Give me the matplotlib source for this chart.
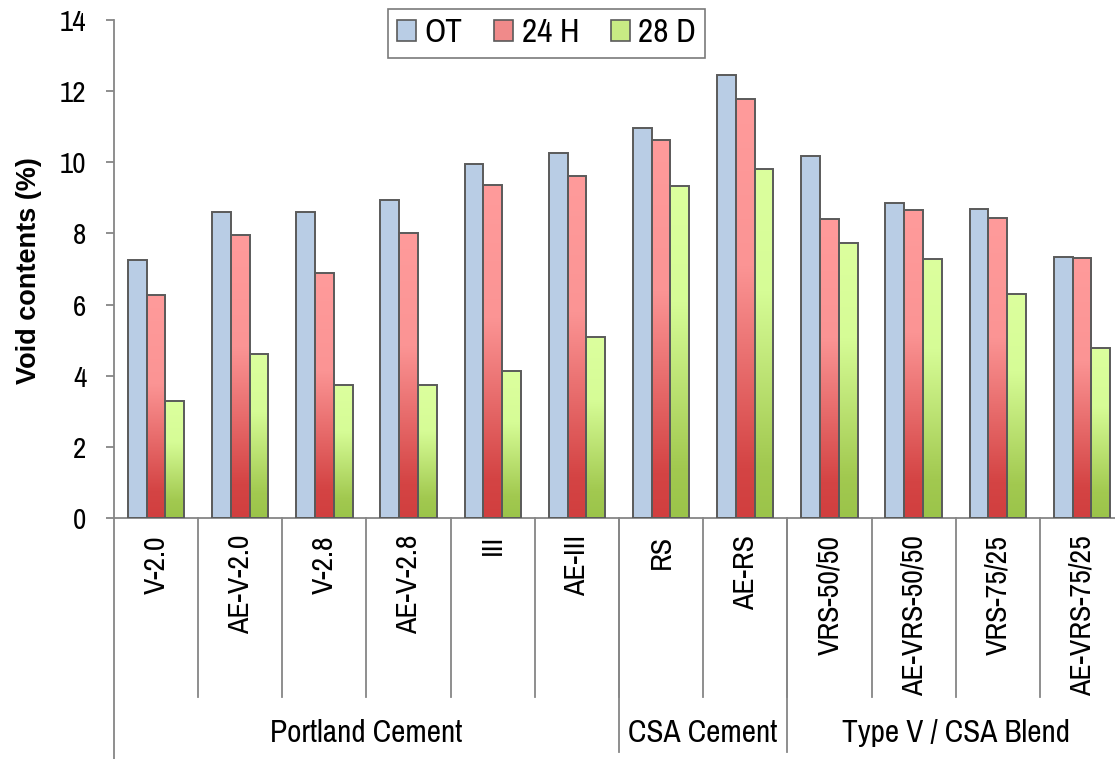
import matplotlib
matplotlib.use("Agg")
import matplotlib.pyplot as plt
import matplotlib.transforms as mtransforms
from matplotlib.patches import Patch
from matplotlib.colors import LinearSegmentedColormap
import numpy as np

plt.rcParams['font.family'] = ['Archivo Narrow', 'Liberation Sans', 'DejaVu Sans']

categories = ["V-2.0", "AE-V-2.0", "V-2.8", "AE-V-2.8", "III", "AE-III",
              "RS", "AE-RS",
              "VRS-50/50", "AE-VRS-50/50", "VRS-75/25", "AE-VRS-75/25"]
groups = ["Portland Cement", "CSA Cement", "Type V / CSA Blend"]
group_sizes = [6, 2, 4]
series_names = ["OT", "24 H", "28 D"]
ot = [7.26, 8.59, 8.59, 8.94, 9.94, 10.26, 10.95, 12.46, 10.17, 8.86, 8.70, 7.33]
h24 = [6.26, 7.96, 6.88, 8.02, 9.36, 9.61, 10.62, 11.77, 8.40, 8.65, 8.43, 7.31]
d28 = [3.28, 4.62, 3.73, 3.75, 4.13, 5.08, 9.32, 9.81, 7.74, 7.27, 6.30, 4.79]
yticks = [0, 2, 4, 6, 8, 10, 12, 14]

W, H = 1115, 759
fig = plt.figure(figsize=(W / 100, H / 100), dpi=100)
ax_left, ax_right, ax_top, ax_bot = 114, 1124, 20, 518
ax = fig.add_axes([ax_left / W, (H - ax_bot) / H, (ax_right - ax_left) / W, (ax_bot - ax_top) / H])

n = len(categories)
x = np.arange(n)
bw = 0.223
edge = '#5a5a5a'
FS = 21.5

def grad_cmap(stops):
    return LinearSegmentedColormap.from_list('g', stops)

blue_fill = '#b9cde5'
red_cmap = grad_cmap([(0.0, '#d13f3f'), (0.12, '#d44444'), (0.6, '#fb9494'), (1.0, '#ff9b9b')])
green_cmap = grad_cmap([(0.0, '#9bc44a'), (0.15, '#a2c950'), (0.65, '#d6fc96'), (1.0, '#dcff9e')])

grad = np.linspace(0, 1, 256).reshape(-1, 1)

series = [(ot, None, blue_fill), (h24, red_cmap, '#f07a7a'), (d28, green_cmap, '#c4e780')]
offsets = [-bw, 0, bw]
for (vals, cmap, solid), off in zip(series, offsets):
    bars = ax.bar(x + off, vals, bw, color=solid if cmap is None else 'none',
                  edgecolor=edge, linewidth=1.4, zorder=3)
    if cmap is not None:
        for b in bars:
            im = ax.imshow(grad, cmap=cmap, origin='lower', aspect='auto',
                           extent=(b.get_x(), b.get_x() + b.get_width(), 0, b.get_height()),
                           zorder=2, interpolation='bicubic')
            im.set_clip_path(b)

ax.set_xlim(-0.5, n - 0.5)
ax.set_ylim(0, 14)
ax.set_yticks(yticks)
ax.set_xticks([])
for s in ['top', 'right']:
    ax.spines[s].set_visible(False)
axis_col = '#868686'
ax.spines['left'].set_color(axis_col)
ax.spines['bottom'].set_color(axis_col)
ax.spines['left'].set_linewidth(1.3)
ax.spines['bottom'].set_linewidth(1.3)
ax.tick_params(axis='y', length=6, width=1.3, color=axis_col, pad=14, labelsize=21)

# multi-level category axis
trans = mtransforms.blended_transform_factory(ax.transData, ax.transAxes)
axh = ax_bot - ax_top
sub_bottom = -(697 - ax_bot) / axh
grp_bottom = -(752 - ax_bot) / axh
for i in range(1, n):
    ax.plot([i - 0.5, i - 0.5], [0, sub_bottom], transform=trans, color=axis_col,
            lw=1.3, clip_on=False)
bounds = np.cumsum([0] + group_sizes) - 0.5
for bnd in bounds[1:-1]:
    ax.plot([bnd, bnd], [0, grp_bottom], transform=trans, color=axis_col,
            lw=1.3, clip_on=False)
ax.plot([-0.5, -0.5], [0, -(H - ax_bot) / axh], transform=trans, color=axis_col, lw=1.3, clip_on=False)

lab_top = -(535 - ax_bot) / axh
for i, c in enumerate(categories):
    ax.text(i, lab_top, c, transform=trans, rotation=90, ha='center', va='top', fontsize=FS)
grp_y = -(733 - ax_bot) / axh
for g, a, b in zip(groups, bounds[:-1], bounds[1:]):
    ax.text((a + b) / 2, grp_y, g, transform=trans, ha='center', va='center', fontsize=22.5)

fig.text(29 / W, 1 - 271 / H, "Void contents (%)", rotation=90, ha='center', va='center',
         fontsize=19.5, fontweight='bold', family=['Liberation Sans', 'DejaVu Sans'])

handles = [Patch(facecolor=blue_fill, edgecolor=edge, linewidth=1.2),
           Patch(facecolor='#f08a8a', edgecolor=edge, linewidth=1.2),
           Patch(facecolor='#c8ea84', edgecolor=edge, linewidth=1.2)]
leg = fig.legend(handles, series_names, loc='upper left', bbox_to_anchor=(388 / W, 1 - 9 / H),
                 ncol=3, fontsize=24, frameon=True, fancybox=False, handlelength=0.57,
                 handleheight=0.57, handletextpad=0.25, columnspacing=0.95,
                 borderpad=0.28, borderaxespad=0)
leg.get_frame().set_edgecolor('#595959')
leg.get_frame().set_linewidth(1.2)

fig.savefig("out.png", dpi=100)
